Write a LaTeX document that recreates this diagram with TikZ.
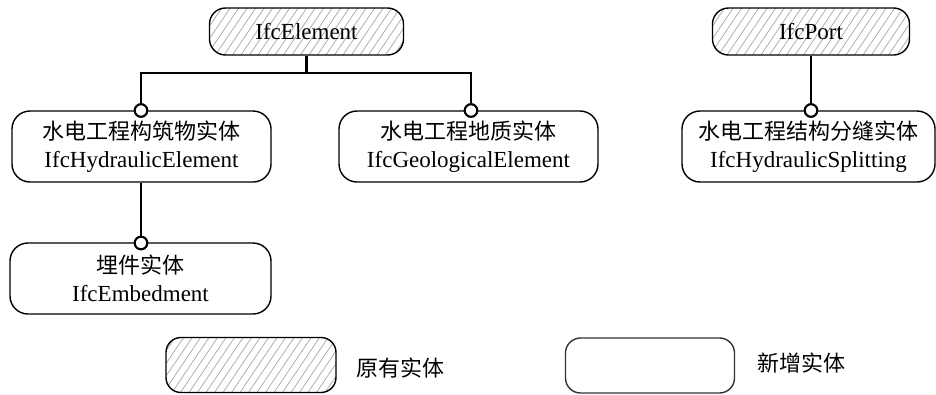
\documentclass[tikz,border=0pt]{standalone}
\usepackage{fontspec}
\setmainfont{Liberation Serif}
\newfontfamily\cjk{Noto Sans CJK SC}
\usetikzlibrary{calc}
\definecolor{hatchc}{gray}{0.65}
\tikzset{
  box/.style={draw=black, line width=1.4pt, rounded corners=18pt, inner sep=0pt, align=center,
    font=\fontsize{23}{28}\selectfont},
  bigbox/.style={box, minimum height=71pt},
  topbox/.style={box, minimum height=47pt, rounded corners=16pt},
  legbox/.style={box, minimum width=170pt, minimum height=55pt, rounded corners=15pt},
  hatched/.style={path picture={
    \foreach \k in {0,...,32} {
      \draw[hatchc, line width=0.7pt] ($(path picture bounding box.south west)+(\k*8.5pt-45pt,0pt)$) -- ++(56:120pt);
    }}},
  conn/.style={line width=2.8pt, black},
  circ/.style={circle, draw=black, line width=2pt, fill=white, minimum size=12.5pt, inner sep=0pt},
  legtxt/.style={font=\cjk\fontsize{22}{26}\selectfont, inner sep=0pt}
}
\begin{document}
\begin{tikzpicture}[x=1pt,y=-1pt]
\useasboundingbox (0,0) rectangle (936,394);
% top (existing) entities
\node[topbox, hatched, minimum width=194pt] (elem) at (306.5,31.5) {IfcElement};
\node[topbox, hatched, minimum width=197pt] (port) at (811,31.5) {IfcPort};
% new entities
\node[bigbox, minimum width=259pt] (hyd) at (141.5,146.5) {{\cjk\fontsize{22}{28}\selectfont 水电工程构筑物实体}\\IfcHydraulicElement};
\node[bigbox, minimum width=259pt] (geo) at (468.5,146.5) {{\cjk\fontsize{22}{28}\selectfont 水电工程地质实体}\\IfcGeologicalElement};
\node[bigbox, minimum width=253pt] (split) at (808.5,146.5) {{\cjk\fontsize{22}{28}\selectfont 水电工程结构分缝实体}\\IfcHydraulicSplitting};
\node[bigbox, minimum width=261pt] (emb) at (140.5,278.5) {{\cjk\fontsize{22}{28}\selectfont 埋件实体}\\IfcEmbedment};
% connectors
\coordinate (j) at (306.5,73);
\node[circ] (c1) at (141,110.5) {};
\node[circ] (c2) at (471,110.5) {};
\node[circ] (c3) at (811,110.5) {};
\node[circ] (c4) at (141,243) {};
\draw[conn] (elem.south) -- (j);
\draw[conn] (c1.north) |- (j) -| (c2.north);
\draw[conn] (port.south) -- (c3.north);
\draw[conn] (hyd.south -| c4) -- (c4.north);
\node[circ] at (c1) {};
\node[circ] at (c2) {};
\node[circ] at (c3) {};
\node[circ] at (c4) {};
% legend
\node[legbox, hatched] (lold) at (251,365) {};
\node[legtxt] (told) at (400,368.5) {原有实体};
\node[legbox, minimum width=169pt, draw=black!80] (lnew) at (650,365.5) {};
\node[legtxt] (tnew) at (801,363.5) {新增实体};
\end{tikzpicture}
\end{document}
